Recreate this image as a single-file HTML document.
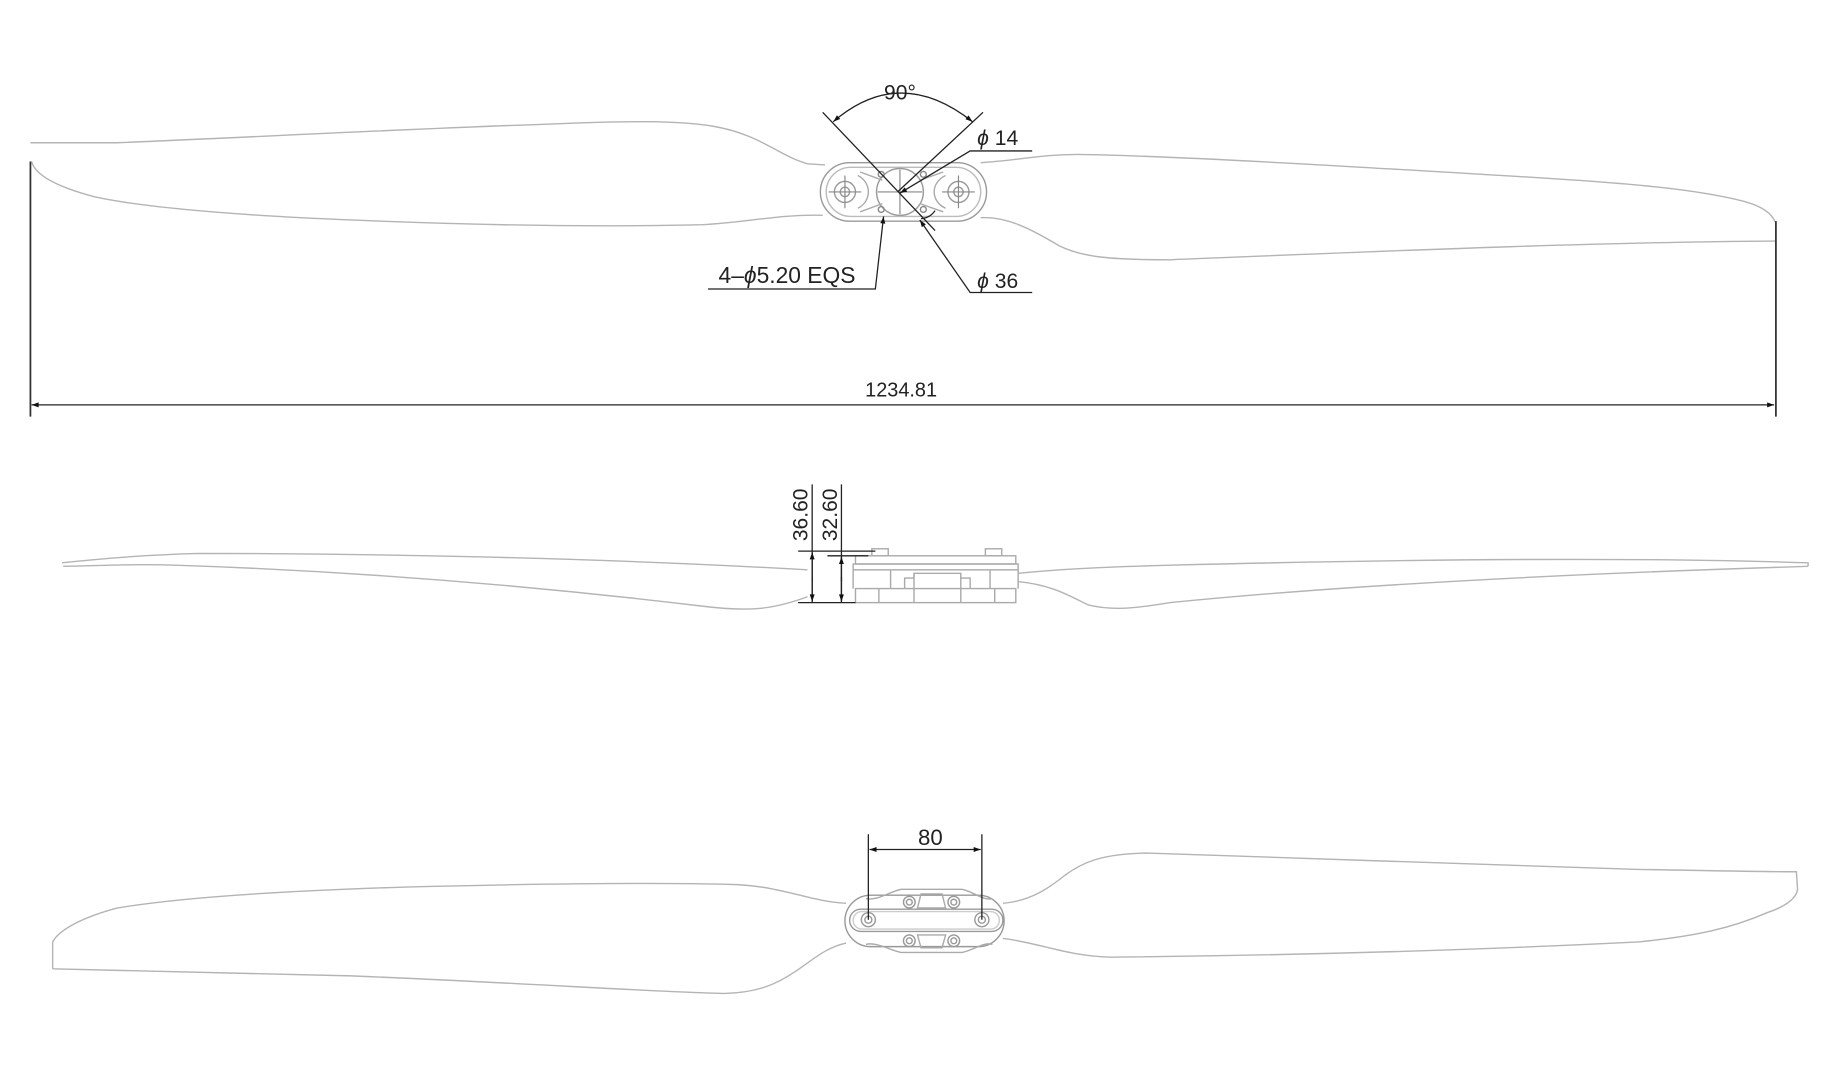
<!DOCTYPE html>
<html><head><meta charset="utf-8"><style>
html,body{margin:0;padding:0;background:#fff;width:1835px;height:1073px;overflow:hidden}
svg{display:block}
text{font-family:"Liberation Sans",sans-serif;fill:#222}
</style></head><body>
<svg width="1835" height="1073" viewBox="0 0 1568 917" preserveAspectRatio="none" xmlns="http://www.w3.org/2000/svg">
<defs>
<marker id="ar" viewBox="0 0 10 10" refX="10" refY="5" markerWidth="11" markerHeight="6" orient="auto-start-reverse" markerUnits="userSpaceOnUse"><path d="M0,1.5 L10,5 L0,8.5 Z" fill="#111"/></marker>
</defs>
<g fill="none" stroke="#b4b4b4" stroke-width="1.2">
<!-- TOP VIEW -->
<path d="M26,122 L100,122 C200,118 350,110 470,106 C540,103 580,103 610,108 C650,115 665,133 690,140 L705,141"/>
<path d="M27,138 C30,150 50,160 80,168 C120,177 200,184 300,188 C420,193 520,194 600,192 C640,190 665,183 703,184"/>
<path d="M838,139 C870,137 890,132 920,132 C1000,133 1150,142 1300,151 C1400,157 1450,162 1490,172 C1505,176 1514,182 1517,190"/>
<path d="M838,186 C860,185 880,195 905,210 C925,220 950,222 1000,222 C1150,216 1350,207 1517,206"/>
<!-- hub top -->
<rect x="701" y="139" width="142" height="50" rx="25" ry="25" stroke="#999"/>
<rect x="706" y="143" width="132" height="42" rx="21" ry="21" stroke="#bbb"/>
<circle cx="769" cy="164" r="20" stroke="#999"/>
<circle cx="722" cy="164" r="9" stroke="#999"/><circle cx="722" cy="164" r="4" stroke="#999"/>
<circle cx="819" cy="164" r="9" stroke="#999"/><circle cx="819" cy="164" r="4" stroke="#999"/>
<path d="M733,150 C745,156 745,172 733,178 M808,150 C795,156 795,172 808,178" stroke="#aaa"/>
<path d="M735,147 L754,154 M735,181 L754,174 M806,147 L786,154 M806,181 L786,174" stroke="#aaa"/>
<path d="M708,164h28 M722,150v28 M805,164h28 M819,150v28 M750,164h38 M769,145v38" stroke="#888" stroke-width="1"/>
<circle cx="753" cy="149" r="2.5" stroke="#888"/><circle cx="789" cy="149" r="2.5" stroke="#888"/>
<circle cx="753" cy="179" r="2.5" stroke="#888"/><circle cx="789" cy="179" r="2.5" stroke="#888"/>
<!-- SIDE VIEW -->
<path d="M53,481 C90,477 130,474 170,473 C300,473 500,476 690,487"/>
<path d="M54,484 C100,483 120,482 150,483 C300,488 450,500 600,518 C640,523 660,521 690,510"/>
<path d="M870,490 C900,487 930,485 1000,483 C1200,478 1400,476 1545,481 L1545,484"/>
<path d="M870,497 C900,500 915,510 930,517 C950,522 970,520 1000,515 C1150,500 1350,490 1545,484"/>
<g stroke="#aaa">
<rect x="745" y="469" width="14" height="6"/><rect x="842" y="469" width="14" height="6"/>
<rect x="731" y="475" width="137" height="7"/>
<rect x="729" y="482" width="141" height="5"/>
<path d="M729,487 L729,503 M870,487 L870,503 M761,487 L761,503 M846,487 L846,503"/>
<path d="M773,503 L773,494 L781,494 L781,490 L821,490 L821,494 L829,494 L829,503"/>
<rect x="731" y="503" width="137" height="12"/>
<path d="M751,503 L751,515 M781,490 L781,515 M821,490 L821,515 M850,503 L850,515"/>
</g>
<!-- BOTTOM VIEW -->
<path d="M45,828 L45,805 C50,795 70,784 100,776 C160,766 250,761 350,758 C470,755 560,754 630,756 C670,758 690,770 723,772"/>
<path d="M45,828 C100,829 200,831 300,834 C450,840 560,848 620,849 C650,848 665,840 680,830 C695,820 705,810 723,806"/>
<path d="M857,772 C880,770 895,760 910,748 C925,737 940,730 980,729 C1100,733 1300,740 1400,743 C1460,744 1500,745 1535,745 L1536,760 C1535,768 1525,775 1510,780 C1480,793 1450,800 1400,805 C1300,810 1150,816 950,818 C910,817 890,806 857,802"/>
<rect x="722" y="765" width="136" height="44" rx="22" ry="22" stroke="#999"/>
<rect x="726" y="777" width="131" height="19" rx="9.5" ry="9.5" stroke="#999"/>
<rect x="729" y="779" width="125" height="15" rx="7.5" ry="7.5" stroke="#ccc"/>
<path d="M740,768 C750,770 760,762 770,760 L822,760 C832,762 840,770 848,768" stroke="#aaa"/>
<path d="M740,807 C750,805 760,812 770,814 L822,814 C832,812 840,805 848,807" stroke="#aaa"/>
<circle cx="777" cy="771" r="5" stroke="#999"/><circle cx="777" cy="771" r="2.5" stroke="#999"/>
<circle cx="815" cy="771" r="5" stroke="#999"/><circle cx="815" cy="771" r="2.5" stroke="#999"/>
<circle cx="777" cy="804" r="5" stroke="#999"/><circle cx="777" cy="804" r="2.5" stroke="#999"/>
<circle cx="815" cy="804" r="5" stroke="#999"/><circle cx="815" cy="804" r="2.5" stroke="#999"/>
<path d="M787,764 L805,764 L808,776 L784,776 Z M787,810 L805,810 L808,799 L784,799 Z" stroke="#aaa"/>
<circle cx="742" cy="786" r="6" stroke="#999"/><circle cx="742" cy="786" r="3" stroke="#999"/>
<circle cx="839" cy="786" r="6" stroke="#999"/><circle cx="839" cy="786" r="3" stroke="#999"/>
</g>
<!-- dimensions -->
<g fill="none" stroke="#222" stroke-width="1.1">
<path d="M26,138 L26,356 M1517.5,189 L1517.5,356" stroke="#333" stroke-width="1.5"/>
<path d="M27,346 L1516,346" marker-start="url(#ar)" marker-end="url(#ar)"/>
<path d="M703,96 L799,197 M840,96 L767,164"/>
<path d="M712,104 Q769,55 831,104" marker-start="url(#ar)" marker-end="url(#ar)"/>
<path d="M882,129 L829,129 L769,165" marker-end="url(#ar)"/>
<path d="M882,250 L829,250 L786,188" marker-end="url(#ar)"/>
<path d="M605,247 L748,247 L755,185" marker-end="url(#ar)"/>
<path d="M787,187 Q795,186 799,180" stroke-width="1"/>
<path d="M682,471 L748,471 M682,515 L731,515 M707,475 L742,475"/>
<path d="M694,414 L694,515 M719,414 L719,515"/>
<path d="M694,497 L694,472" marker-end="url(#ar)"/><path d="M694,493 L694,514" marker-end="url(#ar)"/>
<path d="M719,497 L719,476" marker-end="url(#ar)"/><path d="M719,493 L719,514" marker-end="url(#ar)"/>
<path d="M742,713 L742,786 M839,713 L839,786"/>
<path d="M743,726 L838,726" marker-start="url(#ar)" marker-end="url(#ar)"/>
</g>
<text x="769" y="85" font-size="18" text-anchor="middle">90°</text>
<text x="835" y="124" font-size="18"><tspan font-style="italic">ϕ</tspan>  14</text>
<text x="835" y="246" font-size="18"><tspan font-style="italic">ϕ</tspan>  36</text>
<text x="614" y="242" font-size="19.5">4–<tspan font-style="italic">ϕ</tspan>5.20 EQS</text>
<text x="770" y="339" font-size="17" text-anchor="middle">1234.81</text>
<text transform="translate(690,440) rotate(-90)" font-size="18" text-anchor="middle">36.60</text>
<text transform="translate(715,440) rotate(-90)" font-size="18" text-anchor="middle">32.60</text>
<text x="795" y="722" font-size="19" text-anchor="middle">80</text>
</svg>
</body></html>
